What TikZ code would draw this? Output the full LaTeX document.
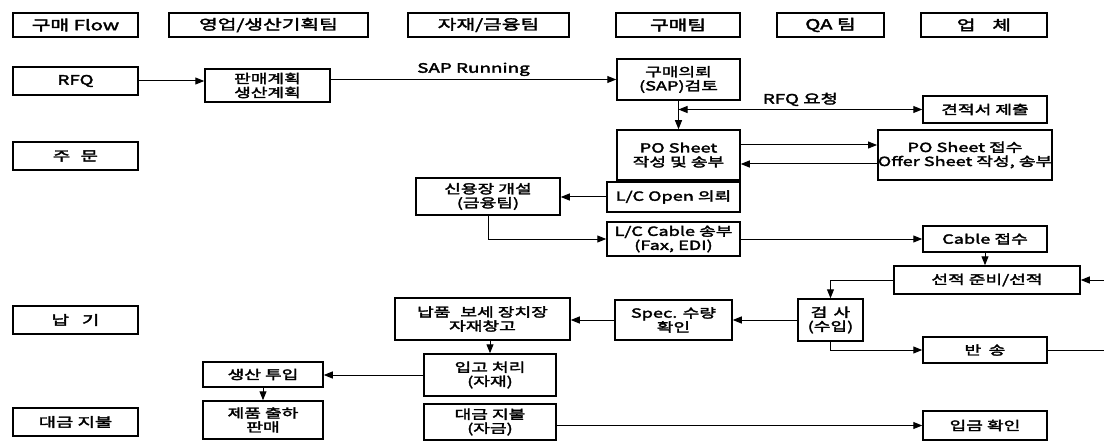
\documentclass[tikz,border=0pt]{standalone}
\usepackage{fontspec}
\setmainfont{Noto Sans CJK KR}[FakeStretch=1.45, FakeBold=2.6]
\usetikzlibrary{arrows.meta}
\tikzset{
  box/.style={draw, line width=1.5pt, inner sep=0pt, align=center, font=\fontsize{12.5}{14}\selectfont},
  hbox/.style={box, line width=1.8pt, font=\fontsize{14}{16}\selectfont},
  lbox/.style={box, line width=1.8pt, font=\fontsize{13}{15}\selectfont},
  lnk/.style={line width=1pt},
  conn/.style={lnk, -{Triangle[length=9pt,width=7pt]}},
  dconn/.style={lnk, {Triangle[length=9pt,width=7pt]}-{Triangle[length=9pt,width=7pt]}},
  lbl/.style={font=\fontsize{13}{15}\selectfont, inner sep=1pt}
}
\begin{document}
\begin{tikzpicture}[x=1pt,y=-1pt]
\fill[white] (0,0) rectangle (1104,441);
\useasboundingbox (0,0) rectangle (1104,441);
% headers
\node[hbox, minimum width=125pt, minimum height=24pt] (h1) at (75.5,25) {구매 Flow};
\node[hbox, minimum width=199pt, minimum height=24pt] (h2) at (268.5,25) {영업/생산기획팀};
\node[hbox, minimum width=161pt, minimum height=24pt] (h3) at (488.5,25) {자재/금융팀};
\node[hbox, minimum width=124pt, minimum height=24pt] (h4) at (678,25) {구매팀};
\node[hbox, minimum width=107pt, minimum height=24pt] (h5) at (830.5,25) {QA 팀};
\node[hbox, minimum width=126pt, minimum height=24pt] (h6) at (984,25) {업\hspace{1.2em}체};
% left column
\node[lbox, minimum width=125pt, minimum height=28pt] (rfq) at (75.5,81) {RFQ};
\node[lbox, minimum width=125pt, minimum height=28pt] (ord) at (75.5,156) {주\hspace{0.8em}문};
\node[lbox, minimum width=125pt, minimum height=28pt] (dlv) at (75.5,320) {납\hspace{1em}기};
\node[lbox, minimum width=125pt, minimum height=28pt] (pay0) at (75.5,422) {대금 지불};
% nodes
\node[box, minimum width=125pt, minimum height=33pt] (plan) at (267.5,85.5) {판매계획\\생산계획};
\node[box, minimum width=123pt, minimum height=41pt] (req) at (678.5,79.5) {구매의뢰\\(SAP)검토};
\node[box, minimum width=124pt, minimum height=27pt] (est) at (985,109.5) {견적서 제출};
\node[box, minimum width=123pt, minimum height=50pt] (po) at (678.5,155) {PO Sheet\\작성 및 송부};
\node[box, minimum width=164pt, minimum height=50pt] (poa) at (965,155) {PO Sheet 접수\\Offer Sheet 작성, 송부};
\node[box, minimum width=144pt, minimum height=37pt] (lc) at (488,196.5) {신용장 개설\\(금융팀)};
\node[box, minimum width=133pt, minimum height=30pt] (lco) at (673.5,197) {L/C Open 의뢰};
\node[box, minimum width=133pt, minimum height=34pt] (lcc) at (673.5,239) {L/C Cable 송부\\(Fax, EDI)};
\node[box, minimum width=124pt, minimum height=26pt] (cab) at (985,239) {Cable 접수};
\node[box, minimum width=186pt, minimum height=28pt] (ship) at (987,280) {선적 준비/선적};
\node[box, minimum width=65pt, minimum height=42pt] (insp) at (830.5,320) {검\hspace{0.5em}사\\(수입)};
\node[box, minimum width=117pt, minimum height=40pt] (spec) at (673.5,320) {Spec. 수량\\확인};
\node[box, minimum width=175pt, minimum height=42pt] (nap) at (482.5,319) {납품\hspace{0.8em}보세 장치장\\자재창고};
\node[box, minimum width=124pt, minimum height=26pt] (ret) at (985,350) {반\hspace{0.6em}송};
\node[box, minimum width=132pt, minimum height=42pt] (ipgo) at (490,375) {입고 처리\\(자재)};
\node[box, minimum width=120pt, minimum height=25pt] (prod) at (263,374.5) {생산 투입};
\node[box, minimum width=120pt, minimum height=38pt] (sale) at (263,420) {제품 출하\\판매};
\node[box, minimum width=132pt, minimum height=36pt] (pay) at (490,422) {대금 지불\\(자금)};
\node[box, minimum width=124pt, minimum height=29pt] (inc) at (985,425.5) {입금 확인};
% connectors
\draw[conn] (rfq.east) -- (rfq.east -| plan.west);
\draw[conn] (req.west -| plan.east) -- (req.west) node[lbl, midway, above=2pt] (sap) {SAP Running};
\draw[conn] (req.south) -- (po.north);
\coordinate (rq) at (req.south |- est.west);
\draw[dconn] (rq) -- (est.west) node[lbl, midway, above=2pt] (rfqlbl) {RFQ 요청};
\draw[conn] ([yshift=10pt]po.east) -- ([yshift=10pt]po.east -| poa.west);
\draw[conn] ([yshift=-9pt]poa.west) -- ([yshift=-9pt]poa.west -| po.east);
\draw[conn] (lco.west) -- (lco.west -| lc.east);
\draw[conn] (lc.south) |- (lcc.west);
\draw[conn] (lcc.east) -- (lcc.east -| cab.west);
\draw[conn] (cab.south) -- (cab.south |- ship.north);
\coordinate (edge1) at (1104,280);
\draw[conn] (edge1) -- (ship.east);
\draw[conn] (ship.west) -| (insp.north);
\draw[conn] (insp.west) -- (insp.west -| spec.east);
\draw[conn] (spec.west) -- (spec.west -| nap.east);
\draw[conn] (ipgo.north |- nap.south) -- (ipgo.north);
\draw[conn] (ipgo.west) -- (ipgo.west -| prod.east);
\draw[conn] (prod.south) -- (sale.north);
\draw[conn] (insp.south) |- (ret.west);
\coordinate (edge2) at (1104,350);
\draw[lnk] (ret.east) -- (edge2);
\draw[conn] (inc.west -| pay.east) -- (inc.west);
\end{tikzpicture}
\end{document}
